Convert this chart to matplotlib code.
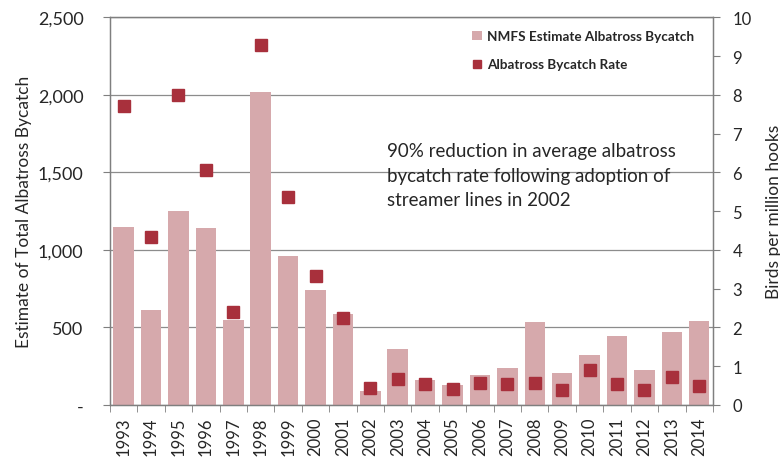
import matplotlib.pyplot as plt
from matplotlib.ticker import FuncFormatter, FixedLocator

plt.rcParams['font.family'] = ['Lato', 'DejaVu Sans']

years = [str(y) for y in range(1993, 2015)]
bycatch = [1150, 610, 1250, 1140, 545, 2020, 960, 740, 590,
           90, 360, 160, 130, 193, 238, 533, 204, 324, 445, 225, 470, 543]
rate = [7.72, 4.33, 8.0, 6.05, 2.41, 9.29, 5.37, 3.34, 2.24,
        0.44, 0.67, 0.53, 0.41, 0.58, 0.54, 0.58, 0.39, 0.91, 0.55, 0.38, 0.71, 0.5]

bar_color = '#d6a9ac'
dot_color = '#a8303c'
text_color = '#262626'
axis_color = '#7f7f7f'

fig = plt.figure(figsize=(7.8, 4.6), dpi=100)
ax = fig.add_axes([0.141, 0.1174, 0.773, 0.8428])
ax2 = ax.twinx()

x = list(range(len(years)))

# bars on the left axis
ax.bar(x, bycatch, width=0.75, color=bar_color, zorder=2,
       label='NMFS Estimate Albatross Bycatch')
ax.set_ylim(0, 2500)
ax.set_xlim(-0.5, len(years) - 0.5)
ax.set_yticks([0, 500, 1000, 1500, 2000, 2500])
ax.yaxis.set_major_formatter(FuncFormatter(lambda v, p: '-' if v == 0 else f'{int(v):,}'))
ax.grid(axis='y', color='#8c8c8c', linewidth=0.9, zorder=0)
ax.set_axisbelow(True)

# category ticks between bars, labels at centres
ax.set_xticks(x)
ax.set_xticklabels(years, rotation=90)
ax.tick_params(axis='x', which='major', length=0, pad=8)
ax.xaxis.set_minor_locator(FixedLocator([i - 0.5 for i in range(len(years) + 1)]))
ax.tick_params(axis='x', which='minor', length=5, color=axis_color)

# rate markers on the right axis
ax2.plot(x, rate, linestyle='none', marker='s', markersize=8,
         color=dot_color, zorder=3, label='Albatross Bycatch Rate')
ax2.set_ylim(0, 10)
ax2.set_yticks(range(0, 11))

for a in (ax, ax2):
    for s in a.spines.values():
        s.set_color(axis_color)
        s.set_linewidth(0.9)
    a.tick_params(axis='y', length=5, color=axis_color, labelsize=12,
                  labelcolor=text_color)
ax.tick_params(axis='x', labelsize=12, labelcolor=text_color)
ax.tick_params(axis='y', labelsize=13, pad=14)
ax2.tick_params(axis='y', pad=9)

ax.set_ylabel('Estimate of Total Albatross Bycatch', fontsize=12.5,
              color=text_color, labelpad=4)
ax2.set_ylabel('Birds per million hooks', fontsize=12.5,
               color=text_color, labelpad=10)

ax2.text(0.459, 0.593, '90% reduction in average albatross\n'
         'bycatch rate following adoption of\nstreamer lines in 2002',
         transform=ax2.transAxes, fontsize=13.5, color=text_color,
         va='center', ha='left', linespacing=1.55)

h1, l1 = ax.get_legend_handles_labels()
h2, l2 = ax2.get_legend_handles_labels()
ax2.legend(h1 + h2, l1 + l2, loc='upper right', bbox_to_anchor=(0.99, 1.0),
           frameon=False, prop={'size': 9.7, 'weight': 'bold'}, markerscale=0.8,
           handlelength=0.7, handleheight=0.7, handletextpad=0.4,
           labelcolor=text_color, borderaxespad=0.55, labelspacing=1.2)

plt.savefig('out.png', dpi=100)
